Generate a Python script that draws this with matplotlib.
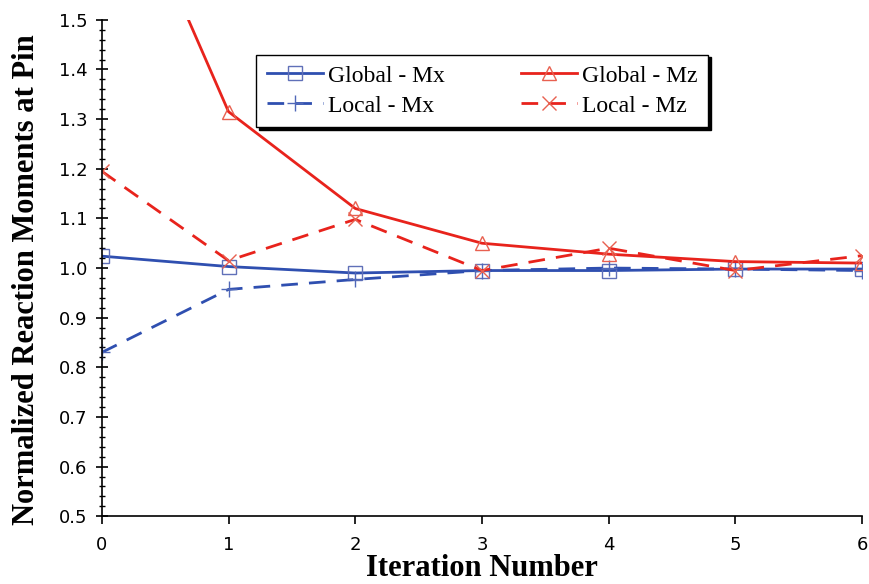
"""Normalized reaction moments vs iteration"""

import matplotlib
matplotlib.use("Agg")
import matplotlib.pyplot as plt
from matplotlib.ticker import MultipleLocator

# data
iterations = [0, 1, 2, 3, 4, 5, 6]
global_mx = [1.024, 1.003, 0.990, 0.995, 0.995, 0.998, 0.998]
global_mz = [1.90, 1.315, 1.120, 1.050, 1.028, 1.013, 1.010]
local_mx = [0.830, 0.957, 0.977, 0.995, 1.000, 0.998, 0.995]
local_mz = [1.195, 1.015, 1.098, 0.995, 1.040, 0.995, 1.025]

BLUE = "#2f4fb0"
RED = "#e8231c"

fig = plt.figure(figsize=(8.7, 5.84), dpi=100)
ax = fig.add_axes([0.117, 0.116, 0.874, 0.85])

ax.plot(iterations, global_mx, color=BLUE, lw=2, marker="s", ms=10,
        mfc="none", mec="#6070b8", mew=1, label="Global - Mx")
ax.plot(iterations, local_mx, color=BLUE, lw=2, ls=(0, (6, 4)), marker="+",
        ms=12, mec="#5068b8", mew=1, label="Local - Mx")
ax.plot(iterations, global_mz, color=RED, lw=2, marker="^", ms=10,
        mfc="none", mec="#e86050", mew=1, label="Global - Mz")
ax.plot(iterations, local_mz, color=RED, lw=2, ls=(0, (6, 4)), marker="x",
        ms=10, mec="#e86050", mew=1, label="Local - Mz")

ax.set_xlim(0, 6)
ax.set_ylim(0.5, 1.5)
ax.xaxis.set_major_locator(MultipleLocator(1))
ax.yaxis.set_major_locator(MultipleLocator(0.1))
ax.yaxis.set_minor_locator(MultipleLocator(0.02))
ax.yaxis.set_major_formatter(plt.FormatStrFormatter("%.1f"))
ax.tick_params(axis="y", which="major", direction="inout", length=9,
               width=1.2, labelsize=13, pad=6)
ax.tick_params(axis="y", which="minor", direction="inout", length=5, width=1)
ax.tick_params(axis="x", which="major", direction="out", length=6,
               width=1.2, labelsize=13, pad=8)
for side in ["top", "right"]:
    ax.spines[side].set_visible(False)
for side in ["left", "bottom"]:
    ax.spines[side].set_linewidth(1.2)

ax.set_xlabel("Iteration Number", family="Liberation Serif",
              fontweight="bold", fontsize=22, labelpad=0)
ax.set_ylabel("Normalized Reaction Moments at Pin", family="Liberation Serif",
              fontweight="bold", fontsize=22)
ax.yaxis.set_label_coords(-0.08, 0.476)

leg = ax.legend(ncol=2, loc="upper left", bbox_to_anchor=(0.203, 0.93),
                prop={"family": "Liberation Serif", "size": 17},
                frameon=True, fancybox=False, edgecolor="black",
                shadow={"color": "black", "alpha": 1},
                columnspacing=3.2, handlelength=2.4, handletextpad=0.2,
                borderpad=0.45, borderaxespad=0, labelspacing=0.35)
leg.get_frame().set_linewidth(1)

fig.savefig("out.png", dpi=100)
